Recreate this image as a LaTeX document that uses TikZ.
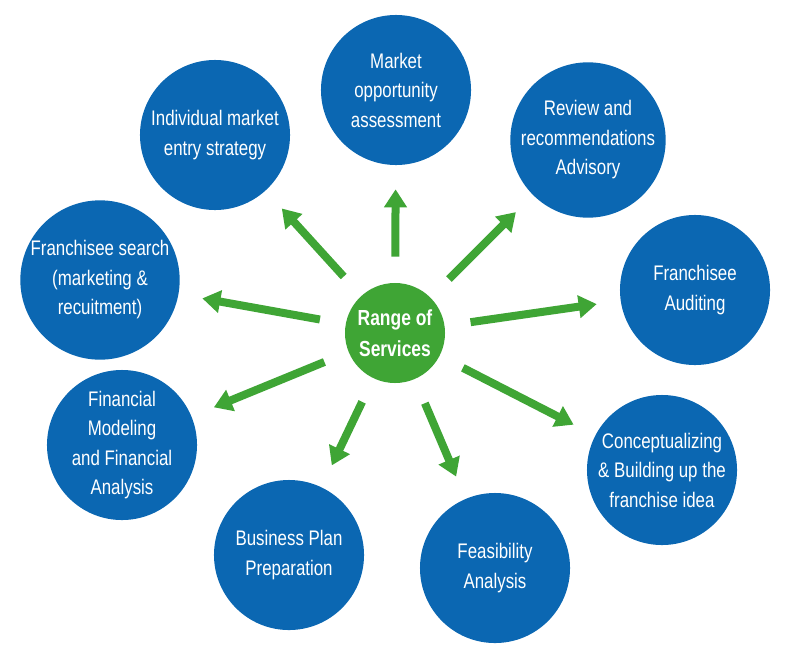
\documentclass[tikz,border=0pt]{standalone}
\usepackage{fontspec}
\setmainfont[FakeStretch=0.8]{Liberation Sans}
\usetikzlibrary{arrows.meta}
\definecolor{svcblue}{HTML}{0B67B2}
\definecolor{svcgreen}{HTML}{3FA535}
\tikzset{
  service/.style={circle, fill=svcblue, text=white, minimum size=3.75cm, inner sep=0pt,
    align=center, font=\fontsize{15}{21}\selectfont},
  hub/.style={circle, fill=svcgreen, text=white, minimum size=2.5cm, inner sep=0pt,
    align=center, font=\fontsize{15.5}{22}\selectfont\bfseries},
  link/.style={svcgreen, line width=0.2cm, shorten <=0.65cm, shorten >=0.6cm,
    -{Triangle[width=0.55cm,length=0.45cm]}}
}
\begin{document}
\begin{tikzpicture}[x=0.025cm,y=-0.025cm]
  \useasboundingbox (0,0) rectangle (800,671);

  \node[hub] (hub) at (395,333) {Range of\\Services};

  % outer ring
  \foreach \x/\y/\txt/\name in {
      396/90/{Market\\opportunity\\assessment}/mkt,
      215/135/{Individual market\\entry strategy}/ind,
      588/140/{Review and\\recommendations\\Advisory}/rev,
      100/280/{Franchisee search\\(marketing \&\\recuitment)}/srch,
      695/290/{Franchisee\\Auditing}/aud,
      122/445/{Financial\\Modeling\\and Financial\\Analysis}/fin,
      662/470/{Conceptualizing\\\& Building up the\\franchise idea}/conc,
      289/555/{Business Plan\\Preparation}/bus,
      495/568/{Feasibility\\Analysis}/feas}{
    \node[service] (\name) at (\x,\y) {\txt};
    \draw[link] (hub) -- (\name);
  }
\end{tikzpicture}
\end{document}
